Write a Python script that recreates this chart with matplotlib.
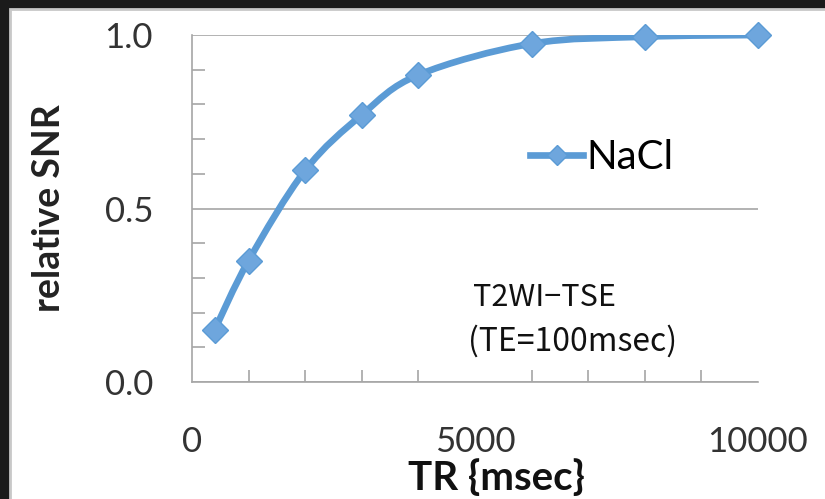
import matplotlib.pyplot as plt
import matplotlib.patches as mpatches
from matplotlib.path import Path
from matplotlib.lines import Line2D
import numpy as np

# data
tr_msec = [400, 1000, 2000, 3000, 4000, 6000, 8000, 10000]
rel_snr = [0.15, 0.35, 0.61, 0.77, 0.885, 0.975, 0.995, 1.0]
series_name = 'NaCl'
y_ticks = [0.0, 0.5, 1.0]
y_ticklabels = ['0.0', '0.5', '1.0']
x_ticks = [0, 5000, 10000]
x_ticklabels = ['0', '5000', '10000']

blue = '#5b9bd5'
marker_blue = '#6ea6dd'
grey = '#a6a6a6'
font = 'Lato'
cjk = ['Noto Sans CJK JP', 'DejaVu Sans']


def smooth_path(x, y):
    # Catmull-Rom style smoothing, like the spreadsheet "smoothed line"
    pts = np.column_stack([x, y]).astype(float)
    verts = [pts[0]]
    codes = [Path.MOVETO]
    n = len(pts)
    for i in range(n - 1):
        p0 = pts[i - 1] if i > 0 else pts[i]
        p1 = pts[i]
        p2 = pts[i + 1]
        p3 = pts[i + 2] if i + 2 < n else pts[i + 1]
        c1 = p1 + (p2 - p0) / 6.0
        c2 = p2 - (p3 - p1) / 6.0
        verts += [c1, c2, p2]
        codes += [Path.CURVE4] * 3
    return Path(verts, codes)


fig = plt.figure(figsize=(8.25, 4.99), dpi=100)
fig.patch.set_facecolor('#1b1b1b')

# white slide panel
panel = mpatches.Rectangle((10 / 825, -0.01), 1, 490 / 499 + 0.01, transform=fig.transFigure,
                           facecolor='white', edgecolor='#c8c8c8', lw=2, zorder=-10)
fig.patches.append(panel)

ax = fig.add_axes([192 / 825, 117 / 499, 566 / 825, 347 / 499])
ax.set_facecolor('none')
ax.set_xlim(0, 10000)
ax.set_ylim(0, 1.0)

for s in ['top', 'right']:
    ax.spines[s].set_visible(False)
for s in ['left', 'bottom']:
    ax.spines[s].set_color(grey)
    ax.spines[s].set_linewidth(1.2)

ax.set_yticks(y_ticks)
ax.set_yticklabels(y_ticklabels)
ax.set_yticks(np.arange(0.1, 1.0, 0.1), minor=True)
ax.set_xticks(x_ticks)
ax.set_xticklabels(x_ticklabels)
ax.set_xticks(np.arange(1000, 10001, 1000), minor=True)
ax.tick_params(axis='both', which='major', length=0, labelsize=25, colors='#333333', pad=32)
ax.tick_params(axis='y', which='major', pad=28)
ax.tick_params(axis='both', which='minor', direction='in', length=9, width=1.2, color=grey)
for lab in ax.get_xticklabels() + ax.get_yticklabels():
    lab.set_fontfamily(font)

ax.yaxis.grid(True, which='major', color=grey, lw=1.2)
ax.set_axisbelow(True)

# smoothed series line + diamond markers
ax.add_patch(mpatches.PathPatch(smooth_path(tr_msec, rel_snr), fill=False,
                                edgecolor=blue, lw=4.8, capstyle='round', zorder=3))
ax.plot(tr_msec, rel_snr, ls='none', marker='D', ms=13, mfc=marker_blue,
        mec=blue, mew=1, zorder=4, clip_on=False)

handle = Line2D([], [], color=blue, lw=4.8, marker='D', ms=10, mfc=marker_blue, mec=blue)
ax.legend([handle], [series_name], loc='center left', bbox_to_anchor=(0.598, 0.648),
          frameon=False, prop={'family': font, 'size': 29},
          handlelength=1.3, handletextpad=0.1, borderaxespad=0, borderpad=0)

ax.set_ylabel('relative SNR', fontfamily=font, fontweight='bold', fontsize=27, color='#222222')
ax.yaxis.set_label_coords(-0.222, 0.5)
ax.set_xlabel('TR {msec}', fontfamily=font, fontweight='bold', fontsize=29, color='#111111')
ax.xaxis.set_label_coords(0.537, -0.222)

ax.text(0.497, 0.243, 'T2WI\u2212TSE', transform=ax.transAxes,
        fontfamily=cjk, fontsize=22, color='#111111', va='center', ha='left')
ax.text(0.487, 0.118, '(TE=100msec)', transform=ax.transAxes,
        fontfamily=cjk, fontsize=23, color='#111111', va='center', ha='left')

fig.savefig('out.png', dpi=100, facecolor=fig.get_facecolor())
